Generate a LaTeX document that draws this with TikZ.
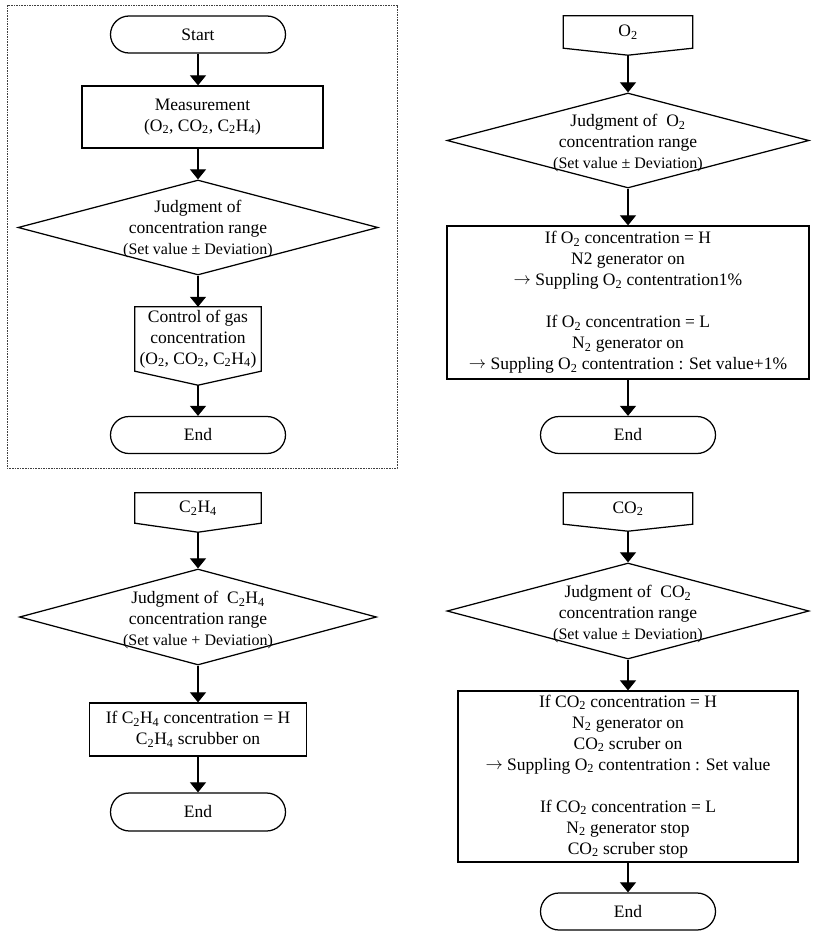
\documentclass[tikz,border=0pt]{standalone}
\usepackage{fontspec}
\setmainfont{Liberation Serif}
\usetikzlibrary{arrows.meta,shapes.geometric,shapes.misc,calc}
\newcommand{\Otw}{O\textsubscript{2}}
\newcommand{\COtw}{CO\textsubscript{2}}
\newcommand{\CHf}{C\textsubscript{2}H\textsubscript{4}}
\newcommand{\Ntw}{N\textsubscript{2}}
\newcommand{\smsz}{\fontsize{16}{19}\selectfont}
\newcommand{\rarr}{\raisebox{1pt}{$\rightarrow$}}
\begin{document}
\begin{tikzpicture}[x=1pt,y=-1pt,
  every node/.style={font=\fontsize{17.5}{21}\selectfont, align=center},
  lw/.style={line width=1.25pt},
  flowline/.style={draw=black, line width=1.2pt, -{Triangle[width=16pt,length=10pt]}},
  term/.style={draw, lw, rounded rectangle, minimum width=175pt, minimum height=37pt, inner sep=0pt},
  procbox/.style={draw, lw, rectangle, inner sep=0pt},
  dia/.style={draw, lw, diamond, inner sep=0pt},
  conn/.style={inner sep=0pt},
  frame/.style={draw=black!75, line width=0.9pt, dash pattern=on 1.6pt off 1pt}
]
\useasboundingbox (0,0) rectangle (815,937);
\fill[white] (0,0) rectangle (815,937);

% ---- frame ----
\draw[frame] (7,5) rectangle (397,468);

% ---- top-left flowchart ----
\node[term] (start) at (198,34.5) {Start};
\node[procbox, minimum width=241pt, minimum height=62pt] (meas) at (202.5,117) {Measurement\\(\Otw, \COtw, \CHf)};
\node[dia, minimum width=360pt, minimum height=95pt,
  label={[align=center, yshift=-2pt]center:{Judgment of\\concentration range\\{\smsz(Set value ± Deviation)}}}] (d1) at (198,227.5) {};
\node[conn, minimum width=126pt, minimum height=64pt] (ctrl) at (198,339) {Control of gas\\concentration\\(\Otw, \COtw, \CHf)};
\coordinate (ctrltip) at ($(ctrl.south)+(0,14)$);
\draw[lw] (ctrl.north west) -- (ctrl.north east) -- (ctrl.south east) -- (ctrltip) -- (ctrl.south west) -- cycle;
\node[term] (end1) at (198,435) {End};

\draw[flowline] (start.south) -- (start.south |- meas.north);
\draw[flowline] (d1.north |- meas.south) -- (d1.north);
\draw[flowline] (d1.south) -- (d1.south |- ctrl.north);
\draw[flowline] (ctrltip) -- (ctrltip |- end1.north);

% ---- top-right flowchart (O2) ----
\node[conn, minimum width=129pt, minimum height=32pt] (o2) at (628,32) {\Otw};
\coordinate (o2tip) at ($(o2.south)+(0,7)$);
\draw[lw] (o2.north west) -- (o2.north east) -- (o2.south east) -- (o2tip) -- (o2.south west) -- cycle;
\node[dia, minimum width=362pt, minimum height=95pt,
  label={[align=center, yshift=-3pt]center:{Judgment of\enspace\Otw\\concentration range\\{\smsz(Set value ± Deviation)}}}] (d2) at (628,140.5) {};
\node[procbox, minimum width=362pt, minimum height=153pt] (box2) at (628,302.5)
  {If \Otw\ concentration = H\\N2 generator on\\\rarr\ Suppling \Otw\ contentration1\%\\[21pt]If \Otw\ concentration = L\\\Ntw\ generator on\\\rarr\ Suppling \Otw\ contentration : Set value+1\%};
\node[term] (end2) at (628,435) {End};

\draw[flowline] (o2tip) -- (o2tip |- d2.north);
\draw[flowline] (d2.south) -- (d2.south |- box2.north);
\draw[flowline] (box2.south) -- (box2.south |- end2.north);

% ---- bottom-left flowchart (C2H4) ----
\node[conn, minimum width=126pt, minimum height=30pt] (c2h4) at (198,508) {\CHf};
\coordinate (c2h4tip) at ($(c2h4.south)+(0,9)$);
\draw[lw] (c2h4.north west) -- (c2h4.north east) -- (c2h4.south east) -- (c2h4tip) -- (c2h4.south west) -- cycle;
\node[dia, minimum width=357pt, minimum height=96pt,
  label={[align=center, yshift=-3pt]center:{Judgment of\enspace\CHf\\concentration range\\{\smsz(Set value + Deviation)}}}] (d3) at (198,617) {};
\node[procbox, minimum width=217pt, minimum height=53pt] (box3) at (198,729.5)
  {If \CHf\ concentration = H\\\CHf\ scrubber on};
\node[term, minimum height=38pt] (end3) at (198,812) {End};

\draw[flowline] (c2h4tip) -- (c2h4tip |- d3.north);
\draw[flowline] (d3.south) -- (d3.south |- box3.north);
\draw[flowline] (box3.south) -- (box3.south |- end3.north);

% ---- bottom-right flowchart (CO2) ----
\node[conn, minimum width=129pt, minimum height=31pt] (co2) at (628,508.5) {\COtw};
\coordinate (co2tip) at ($(co2.south)+(0,7)$);
\draw[lw] (co2.north west) -- (co2.north east) -- (co2.south east) -- (co2tip) -- (co2.south west) -- cycle;
\node[dia, minimum width=362pt, minimum height=96pt,
  label={[align=center, yshift=-3pt]center:{Judgment of\enspace\COtw\\concentration range\\{\smsz(Set value ± Deviation)}}}] (d4) at (628,611) {};
\node[procbox, minimum width=340pt, minimum height=171pt] (box4) at (628,776.5)
  {If \COtw\ concentration = H\\\Ntw\ generator on\\\COtw\ scruber on\\\rarr\ Suppling \Otw\ contentration : Set value\\[21pt]If \COtw\ concentration = L\\\Ntw\ generator stop\\\COtw\ scruber stop};
\node[term] (end4) at (628,911.5) {End};

\draw[flowline] (co2tip) -- (co2tip |- d4.north);
\draw[flowline] (d4.south) -- (d4.south |- box4.north);
\draw[flowline] (box4.south) -- (box4.south |- end4.north);
\end{tikzpicture}
\end{document}
